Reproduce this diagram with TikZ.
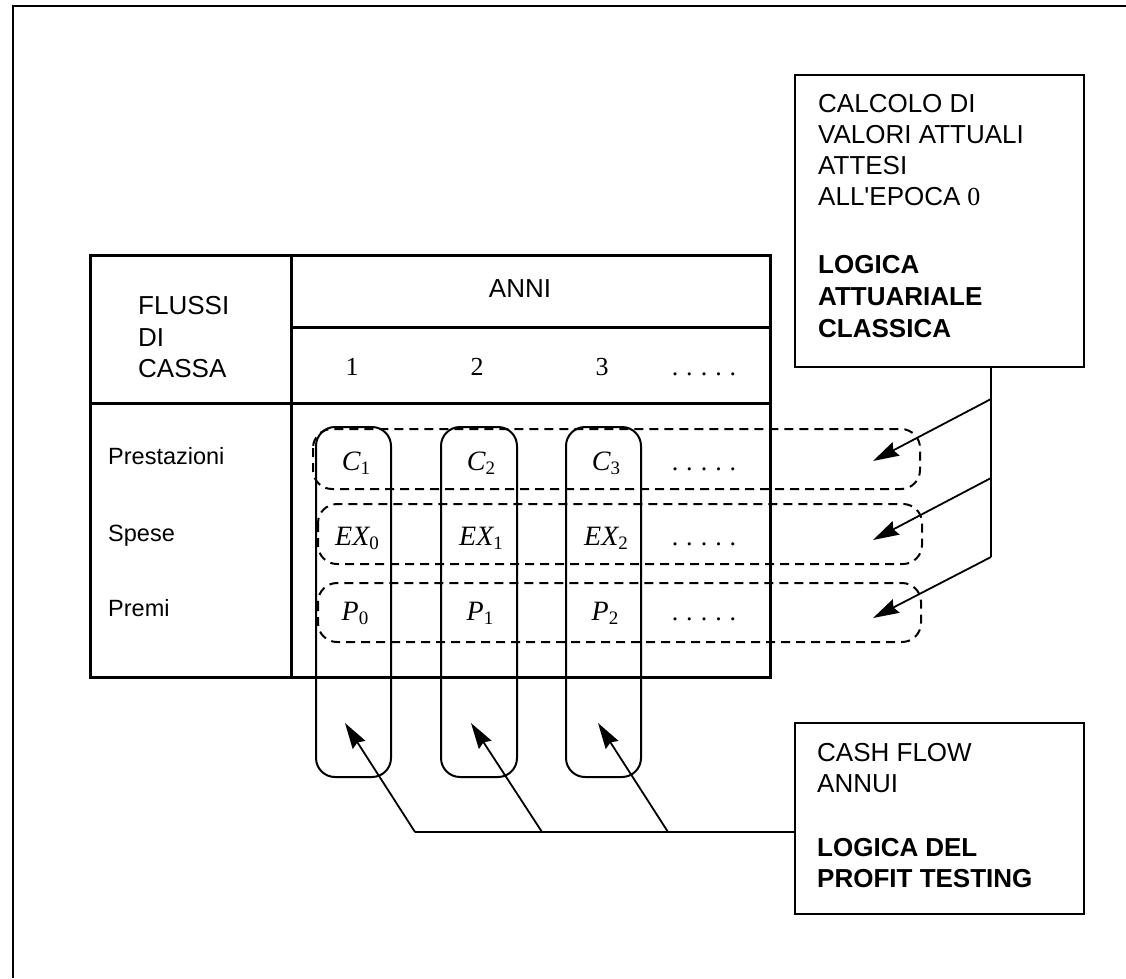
\documentclass[tikz,border=0pt]{standalone}
\usepackage{fontspec}
\setmainfont{Liberation Sans}[Ligatures=TeXOff]
\newfontfamily\serif{Liberation Serif}
\usetikzlibrary{arrows.meta}
\newcommand{\cellv}[2]{{\serif\itshape\fontsize{28}{31}\selectfont #1}\raisebox{-4pt}{\serif\fontsize{19}{19}\selectfont #2}}
\newcommand{\fivedots}{{\serif .\hspace{8pt}.\hspace{8pt}.\hspace{8pt}.\hspace{8pt}.}}
\begin{document}
\begin{tikzpicture}[x=1pt,y=-1pt,
  txt/.style={inner sep=0pt,font=\fontsize{26}{31}\selectfont},
  lt/.style={txt,anchor=base west},
  bt/.style={lt,font=\bfseries\fontsize{26}{31}\selectfont},
  rl/.style={lt,font=\fontsize{23.5}{28}\selectfont},
  ct/.style={txt,anchor=base},
  num/.style={ct,font=\serif\fontsize{26}{31}\selectfont},
  frame/.style={line width=2.6pt},
  tab/.style={line width=3pt},
  col/.style={line width=2pt,rounded corners=19pt},
  rowb/.style={line width=2pt,rounded corners=19pt,dash pattern=on 9pt off 6pt},
  box/.style={line width=2.4pt},
  conn/.style={line width=1.8pt},
  arr/.style={conn,-{Stealth[length=26pt,width=15pt,inset=3pt]}}
]
\useasboundingbox (0,0) rectangle (1126,978);
% outer frame
\draw[frame] (13,978) -- (13,6) -- (1126,6);

% table
\draw[tab] (90,255) rectangle (770,677);
\draw[tab] (291,255) -- (291,677);
\draw[tab] (291,327) -- (770,327);
\draw[tab] (90,403) -- (770,403);

% header texts
\node[lt] (flussi) at (138,314) {FLUSSI};
\node[lt] (di) at (138,346) {DI};
\node[lt] (cassa) at (138,377) {CASSA};
\node[ct] (anni) at (520,297) {ANNI};
\node[num] (n1) at (352,375) {1};
\node[num] (n2) at (477,375) {2};
\node[num] (n3) at (602,375) {3};
\node[ct] (nd) at (704,375) {\fivedots};

% row labels
\node[rl] (prest) at (108,464) {Prestazioni};
\node[rl] (spese) at (108,541) {Spese};
\node[rl] (premi) at (108,616) {Premi};

% cells
\node[ct] (c1) at (356,470) {\cellv{C}{1}};
\node[ct] (c2) at (481,470) {\cellv{C}{2}};
\node[ct] (c3) at (606,470) {\cellv{C}{3}};
\node[ct] (cd) at (704,470) {\fivedots};
\node[ct] (e0) at (357,545) {\cellv{EX}{0}};
\node[ct] (e1) at (481,545) {\cellv{EX}{1}};
\node[ct] (e2) at (606,545) {\cellv{EX}{2}};
\node[ct] (ed) at (704,545) {\fivedots};
\node[ct] (p0) at (355,620) {\cellv{P}{0}};
\node[ct] (p1) at (480,620) {\cellv{P}{1}};
\node[ct] (p2) at (605,620) {\cellv{P}{2}};
\node[ct] (pd) at (704,620) {\fivedots};

% column groups
\draw[col] (316,427) rectangle (391,777);
\draw[col] (441,427) rectangle (517,777);
\draw[col] (566,427) rectangle (641,777);

% row groups
\draw[rowb] (313,429) rectangle (920,489);
\draw[rowb] (318,504) rectangle (922,564);
\draw[rowb] (318,583) rectangle (921,642);

% top-right box
\draw[box] (795,75) rectangle (1084,367);
\node[lt] (calc1) at (818,112) {CALCOLO DI};
\node[lt] (calc2) at (818,143) {VALORI ATTUALI};
\node[lt] (calc3) at (818,174) {ATTESI};
\node[lt] (calc4) at (818,205) {ALL'EPOCA\hspace{7pt}{\serif 0}};
\node[bt] (logc1) at (818,273) {LOGICA};
\node[bt] (logc2) at (818,305) {ATTUARIALE};
\node[bt] (logc3) at (818,337) {CLASSICA};
\coordinate (tb) at (991,367);
\coordinate (b1) at (991,399);
\coordinate (b2) at (991,478);
\coordinate (b3) at (991,557);
\coordinate (t1) at (873,461);
\coordinate (t2) at (873,540);
\coordinate (t3) at (873,618);
\draw[conn] (tb) -- (b3);
\draw[arr] (b1) -- (t1);
\draw[arr] (b2) -- (t2);
\draw[arr] (b3) -- (t3);

% bottom-right box
\draw[box] (795,723) rectangle (1084,914);
\node[lt] (cash1) at (817,761) {CASH FLOW};
\node[lt] (cash2) at (817,792) {ANNUI};
\node[bt] (logp1) at (817,856) {LOGICA\hspace{7pt}DEL};
\node[bt] (logp2) at (817,887) {PROFIT TESTING};
\coordinate (bw) at (795,832);
\coordinate (h1) at (415,832);
\coordinate (h2) at (542,832);
\coordinate (h3) at (668,832);
\coordinate (u1) at (345,723);
\coordinate (u2) at (471,723);
\coordinate (u3) at (598,723);
\draw[conn] (bw) -- (h1);
\draw[arr] (h1) -- (u1);
\draw[arr] (h2) -- (u2);
\draw[arr] (h3) -- (u3);
\end{tikzpicture}
\end{document}
